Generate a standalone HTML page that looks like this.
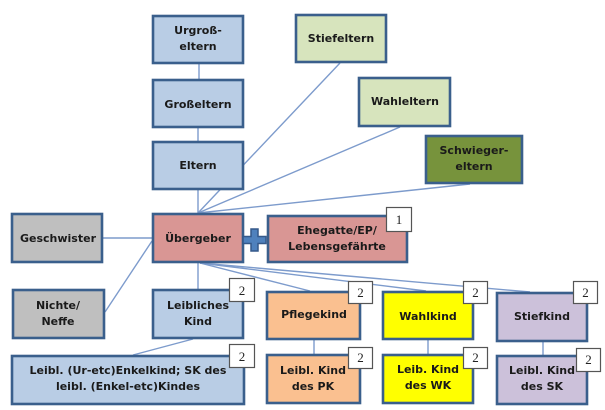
<!DOCTYPE html>
<html><head><meta charset="utf-8"><style>
html,body{margin:0;padding:0;background:#fff;}
svg{display:block;}
text{font-family:"DejaVu Sans","Liberation Sans",Arial,sans-serif;font-weight:bold;font-size:11px;fill:#1a1a1a;}
text.b{font-family:"Liberation Serif",serif;font-weight:normal;font-size:13px;fill:#222;}
</style></head><body>
<svg width="605" height="410" viewBox="0 0 605 410" xmlns="http://www.w3.org/2000/svg">
<g stroke="#7d9bcc" stroke-width="1.4" fill="none">
<line x1="199" y1="64" x2="199" y2="79"/>
<line x1="198" y1="128" x2="198" y2="141"/>
<line x1="198" y1="190" x2="198" y2="213"/>
<line x1="198" y1="213" x2="340" y2="63"/>
<line x1="198" y1="213" x2="400" y2="127"/>
<line x1="198" y1="213" x2="470" y2="184"/>
<line x1="103" y1="238" x2="152" y2="238"/>
<line x1="105" y1="312" x2="152" y2="241"/>
<line x1="198" y1="263" x2="198" y2="289"/>
<line x1="200" y1="263" x2="310" y2="291"/>
<line x1="200" y1="263" x2="426" y2="291"/>
<line x1="200" y1="263" x2="530" y2="292"/>
<line x1="193" y1="339" x2="133" y2="355"/>
<line x1="314" y1="340" x2="314" y2="354"/>
<line x1="428" y1="340" x2="428" y2="354"/>
<line x1="543" y1="342" x2="543" y2="355"/>
</g>
<g stroke="#3a5f8c" stroke-width="2.6">
<rect x="153" y="16" width="90" height="47" fill="#b9cde5"/>
<rect x="153" y="80" width="90" height="47" fill="#b9cde5"/>
<rect x="153" y="142" width="90" height="47" fill="#b9cde5"/>
<rect x="296" y="15" width="90" height="47" fill="#d7e4bd"/>
<rect x="359" y="78" width="91" height="48" fill="#d7e4bd"/>
<rect x="426" y="136" width="96" height="47" fill="#77933c"/>
<rect x="12" y="214" width="90" height="48" fill="#bfbfbf"/>
<rect x="153" y="214" width="90" height="48" fill="#d99694"/>
<rect x="268" y="216" width="139" height="46" fill="#d99694"/>
<rect x="13" y="290" width="91" height="48" fill="#bfbfbf"/>
<rect x="153" y="290" width="90" height="48" fill="#b9cde5"/>
<rect x="12" y="356" width="232" height="48" fill="#b9cde5"/>
<rect x="267" y="292" width="93" height="47" fill="#fac090"/>
<rect x="383" y="292" width="90" height="47" fill="#ffff00"/>
<rect x="497" y="293" width="90" height="48" fill="#ccc1da"/>
<rect x="267" y="355" width="93" height="48" fill="#fac090"/>
<rect x="383" y="355" width="90" height="48" fill="#ffff00"/>
<rect x="497" y="356" width="90" height="48" fill="#ccc1da"/>
</g>
<path d="M251 229 h7 v7.5 h8 v7 h-8 v7.5 h-7 v-7.5 h-8 v-7 h8 z" fill="#4f81bd" stroke="#35598a" stroke-width="1.5"/>
<g fill="#fff" stroke="#555" stroke-width="1.2">
<rect x="386.5" y="207.5" width="25" height="24"/>
<rect x="229.5" y="278.5" width="25" height="23"/>
<rect x="229.5" y="344.5" width="25" height="23"/>
<rect x="348.5" y="281.5" width="24" height="22"/>
<rect x="463.5" y="281.5" width="24" height="22"/>
<rect x="573.5" y="281.5" width="24" height="22"/>
<rect x="348.5" y="347.5" width="24" height="21"/>
<rect x="463.5" y="347.5" width="24" height="21"/>
<rect x="576.5" y="348.5" width="24" height="23"/>
</g>
<g text-anchor="middle">
<text class="b" x="399" y="224">1</text>
<text class="b" x="242" y="295">2</text>
<text class="b" x="242" y="361">2</text>
<text class="b" x="360.5" y="297">2</text>
<text class="b" x="475.5" y="297">2</text>
<text class="b" x="585.5" y="297">2</text>
<text class="b" x="360.5" y="362">2</text>
<text class="b" x="475.5" y="362">2</text>
<text class="b" x="588.5" y="364">2</text>
</g>
<g text-anchor="middle">
<text x="198" y="34">Urgroß-</text>
<text x="198" y="50">eltern</text>
<text x="198" y="108">Großeltern</text>
<text x="198" y="169">Eltern</text>
<text x="341" y="42">Stiefeltern</text>
<text x="405" y="105">Wahleltern</text>
<text x="474" y="154">Schwieger-</text>
<text x="474" y="170">eltern</text>
<text x="58" y="242">Geschwister</text>
<text x="198" y="242">Übergeber</text>
<text x="337" y="234">Ehegatte/EP/</text>
<text x="337" y="250">Lebensgefährte</text>
<text x="58" y="309">Nichte/</text>
<text x="58" y="325">Neffe</text>
<text x="198" y="309">Leibliches</text>
<text x="198" y="325">Kind</text>
<text x="128" y="374">Leibl. (Ur-etc)Enkelkind; SK des</text>
<text x="128" y="390">leibl. (Enkel-etc)Kindes</text>
<text x="314" y="318">Pflegekind</text>
<text x="428" y="320">Wahlkind</text>
<text x="542" y="320">Stiefkind</text>
<text x="313" y="374">Leibl. Kind</text>
<text x="313" y="390">des PK</text>
<text x="428" y="373">Leib. Kind</text>
<text x="428" y="389">des WK</text>
<text x="542" y="374">Leibl. Kind</text>
<text x="542" y="390">des SK</text>
</g>
</svg>
</body></html>
